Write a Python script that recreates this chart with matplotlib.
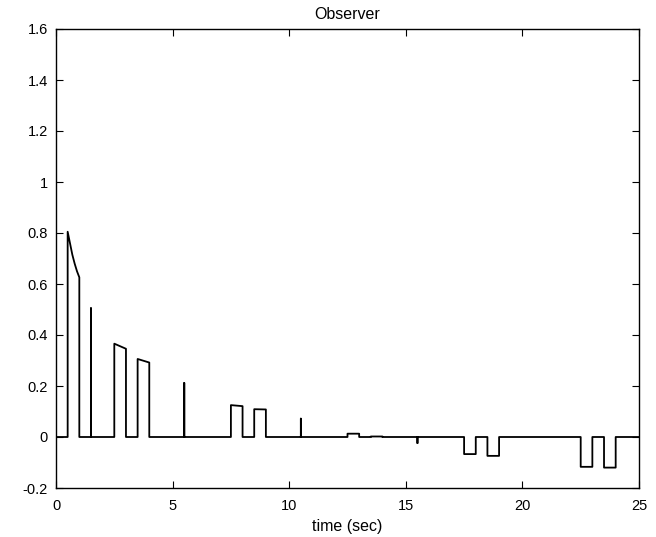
import matplotlib
matplotlib.use("Agg")
import matplotlib.pyplot as plt

# Observer signal (time in seconds, value)
time_s = [0, 0.5, 0.5, 0.6, 0.7, 0.8, 0.9, 1.0, 1.0,
          1.5, 1.5, 1.5,
          2.5, 2.5, 3.0, 3.0,
          3.5, 3.5, 4.0, 4.0,
          5.5, 5.5, 5.5,
          7.5, 7.5, 8.0, 8.0,
          8.5, 8.5, 9.0, 9.0,
          10.5, 10.5, 10.5,
          12.5, 12.5, 13.0, 13.0,
          13.5, 13.5, 14.0, 14.0,
          15.5, 15.5, 15.5,
          17.5, 17.5, 18.0, 18.0,
          18.5, 18.5, 19.0, 19.0,
          22.5, 22.5, 23.0, 23.0,
          23.5, 23.5, 24.0, 24.0, 25]
values = [0, 0, 0.805, 0.76, 0.715, 0.68, 0.65, 0.626, 0,
          0, 0.505, 0,
          0, 0.366, 0.346, 0,
          0, 0.306, 0.292, 0,
          0, 0.212, 0,
          0, 0.125, 0.121, 0,
          0, 0.109, 0.108, 0,
          0, 0.072, 0,
          0, 0.013, 0.013, 0,
          0, 0.002, 0.002, 0,
          0, -0.024, 0,
          0, -0.067, -0.067, 0,
          0, -0.074, -0.074, 0,
          0, -0.117, -0.117, 0,
          0, -0.12, -0.12, 0, 0]

title = "Observer"
xlabel = "time (sec)"
xticks = [0, 5, 10, 15, 20, 25]
yticks = [-0.2, 0, 0.2, 0.4, 0.6, 0.8, 1, 1.2, 1.4, 1.6]
ytick_labels = ["-0.2", "0", "0.2", "0.4", "0.6", "0.8", "1", "1.2", "1.4", "1.6"]

plt.rcParams['font.family'] = ['Liberation Sans', 'DejaVu Sans']
fig = plt.figure(figsize=(6.56, 5.37), dpi=100)
ax = fig.add_axes([56/656, 1-488/537, 583/656, 459/537])
ax.plot(time_s, values, color='black', linewidth=1.3)
ax.set_xlim(0, 25)
ax.set_ylim(-0.2, 1.6)
ax.set_xticks(xticks)
ax.set_xticklabels([str(v) for v in xticks])
ax.set_yticks(yticks)
ax.set_yticklabels(ytick_labels)
ax.tick_params(direction='in', top=True, right=True, labelsize=10.5, length=5, width=0.8)
ax.tick_params(axis='x', pad=8)
ax.tick_params(axis='y', pad=6)
for s in ax.spines.values():
    s.set_linewidth(1.0)
ax.set_title(title, fontsize=11.5, pad=7)
ax.set_xlabel(xlabel, fontsize=11.5, labelpad=4)
fig.savefig("out.png", dpi=100)
